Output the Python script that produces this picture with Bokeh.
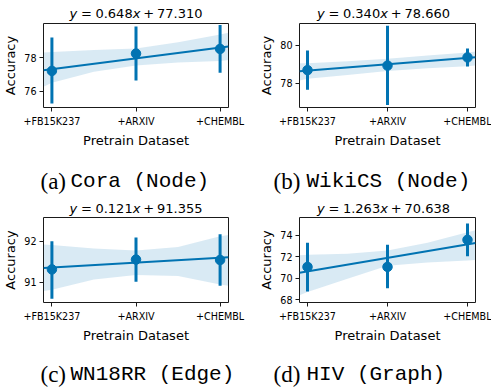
from bokeh.plotting import figure
from bokeh.layouts import column, row
from bokeh.models import ColumnDataSource, Label, FixedTicker, Range1d
from bokeh.embed import file_html
from bokeh.resources import INLINE

# ---------------- data ----------------
datasets = ["+FB15K237", "+ARXIV", "+CHEMBL"]
letters = ["(a)", "(b)", "(c)", "(d)"]
names = ["Cora (Node)", "WikiCS (Node)", "WN18RR (Edge)", "HIV (Graph)"]
slopes = [0.648, 0.340, 0.121, 1.263]
intercepts = [77.310, 78.660, 91.355, 70.638]

means_a = [77.21, 78.25, 78.53]
low_a = [75.25, 76.63, 77.10]
high_a = [79.22, 79.88, 79.97]

means_b = [78.69, 78.93, 79.36]
low_b = [77.65, 76.85, 78.88]
high_b = [79.72, 81.03, 79.83]

means_c = [91.31, 91.55, 91.54]
low_c = [90.59, 91.01, 90.91]
high_c = [92.00, 92.09, 92.17]

means_d = [71.06, 71.06, 73.59]
low_d = [68.77, 69.07, 72.06]
high_d = [73.32, 73.12, 75.11]

band_x = [-0.1, 0.0, 0.5, 1.0, 1.5, 2.0, 2.1]
band_lo_a = [76.26, 76.50, 77.16, 77.53, 77.72, 77.81, 77.87]
band_hi_a = [78.32, 78.34, 78.47, 78.56, 78.94, 79.40, 79.50]
band_lo_b = [78.15, 78.23, 78.44, 78.65, 78.79, 78.90, 78.93]
band_hi_b = [79.05, 79.06, 79.16, 79.29, 79.46, 79.62, 79.67]
band_lo_c = [90.78, 90.81, 91.06, 91.17, 91.15, 90.94, 90.91]
band_hi_c = [91.92, 91.91, 91.82, 91.77, 91.86, 92.12, 92.15]
band_lo_d = [68.42, 68.71, 69.95, 71.18, 71.47, 71.65, 71.71]
band_hi_d = [72.15, 72.20, 72.29, 72.59, 73.32, 74.29, 74.49]

y_ranges = [(75.01, 80.06), (76.72, 81.15), (90.50, 92.58), (67.74, 75.67)]
y_ticks = [[76, 78], [78, 80], [91, 92], [68, 70, 72, 74]]
x_range = (-0.1, 2.1)

# ---------------- style ----------------
BLUE = "#0173b2"
SANS = "DejaVu Sans"
ADV = {"0": .636, "1": .636, "2": .636, "3": .636, "4": .636, "5": .636, "6": .636,
       "7": .636, "8": .636, "9": .636, ".": .318, "=": .838, "+": .838,
       "y": .592, "x": .592}


def text_width(s, size):
    return sum(ADV.get(c, .6) for c in s) * size


def strip(width, height):
    s = figure(width=width, height=height, output_backend="svg", toolbar_location=None,
               x_range=Range1d(0, width), y_range=Range1d(0, height),
               x_axis_type=None, y_axis_type=None, title=None, frame_align=False,
               min_border_left=0, min_border_right=0, min_border_top=0, min_border_bottom=0,
               background_fill_color="white", border_fill_color="white")
    s.outline_line_color = None
    s.grid.visible = False
    return s


def make_panel(i, means, low, high, blo, bhi, width, mb_left, mb_right,
               title_h, title_base, plot_h, cap_h, cap_base, letter_x, name_x):
    frame_w = width - mb_left - mb_right
    # equation strip:  y = a x + b  (tokens placed with math-style spacing)
    t = strip(width, title_h)
    fs = 13
    toks = [("y", "italic", 0.28), ("=", "normal", 0.28), ("%.3f" % slopes[i], "normal", 0.0),
            ("x", "italic", 0.22), ("+", "normal", 0.22), ("%.3f" % intercepts[i], "normal", 0.0)]
    total = sum(text_width(s, fs) + g * fs for s, _, g in toks)
    x0 = mb_left + frame_w / 2 - total / 2
    for s, st, g in toks:
        t.add_layout(Label(x=x0, y=title_base, text=s, text_font=SANS,
                           text_font_size="%dpx" % fs, text_font_style=st,
                           text_color="black", text_align="left",
                           text_baseline="alphabetic"))
        x0 += text_width(s, fs) + g * fs

    p = figure(width=width, height=plot_h, output_backend="svg", toolbar_location=None,
               x_range=Range1d(*x_range), y_range=Range1d(*y_ranges[i]), title=None,
               frame_align=False,
               min_border_left=mb_left, min_border_right=mb_right,
               min_border_top=0, min_border_bottom=37,
               background_fill_color="white", border_fill_color="white")
    p.xgrid.visible = False
    p.ygrid.visible = False
    p.outline_line_color = "#1a1a1a"
    p.outline_line_width = 1
    for ax in (p.xaxis[0], p.yaxis[0]):
        ax.axis_line_color = None
        ax.major_tick_in = 0
        ax.major_tick_out = 4
        ax.major_tick_line_color = "#1a1a1a"
        ax.minor_tick_line_color = None
        ax.major_label_text_font = SANS
        ax.major_label_text_font_size = "9.6px"
        ax.major_label_text_color = "black"
        ax.axis_label_text_font = SANS
        ax.axis_label_text_font_size = "13px"
        ax.axis_label_text_font_style = "normal"
        ax.axis_label_text_color = "black"
        ax.major_label_standoff = 3
    p.xaxis.ticker = FixedTicker(ticks=[0, 1, 2])
    p.xaxis.major_label_overrides = {0: datasets[0], 1: datasets[1], 2: datasets[2]}
    p.xaxis.major_label_standoff = 4
    p.xaxis.axis_label = "Pretrain Dataset"
    p.xaxis.axis_label_standoff = 3
    p.yaxis.ticker = FixedTicker(ticks=y_ticks[i])
    p.yaxis.axis_label = "Accuracy"
    p.yaxis.axis_label_standoff = 3

    p.varea(x=band_x, y1=blo, y2=bhi, fill_color=BLUE, fill_alpha=0.15)
    lx = [x_range[0], x_range[1]]
    ly = [intercepts[i] + slopes[i] * v for v in lx]
    p.line(lx, ly, line_color=BLUE, line_width=2)
    src = ColumnDataSource(dict(x=[0, 1, 2], m=means, lo=low, hi=high))
    p.segment(x0="x", y0="lo", x1="x", y1="hi", source=src, line_color=BLUE, line_width=3)
    p.scatter(x="x", y="m", source=src, size=9.5, fill_color=BLUE, line_color=BLUE)

    # caption strip
    c = strip(width, cap_h)
    c.add_layout(Label(x=letter_x, y=cap_base, text=letters[i],
                       text_font="Liberation Serif", text_font_size="23px",
                       text_color="black", text_align="left", text_baseline="alphabetic"))
    c.add_layout(Label(x=name_x, y=cap_base, text=names[i],
                       text_font="Liberation Mono", text_font_size="21px",
                       text_color="black", text_align="left", text_baseline="alphabetic"))
    return column(t, p, c, spacing=0)


pa = make_panel(0, means_a, low_a, high_a, band_lo_a, band_hi_a, 256, 43, 28, 23, 10.5, 127, 46, 15, 40, 70)
pb = make_panel(1, means_b, low_b, high_b, band_lo_b, band_hi_b, 235, 35, 16, 23, 10.5, 127, 46, 15, 17, 50)
pc = make_panel(2, means_c, low_c, high_c, band_lo_c, band_hi_c, 256, 43, 28, 21, 9.5, 128, 42, 13, 40, 70)
pd = make_panel(3, means_d, low_d, high_d, band_lo_d, band_hi_d, 235, 35, 16, 21, 9.5, 128, 42, 13, 17, 50)

layout = column(row(pa, pb, spacing=0), row(pc, pd, spacing=0), spacing=0)
open("out.html", "w").write(file_html(layout, INLINE))
